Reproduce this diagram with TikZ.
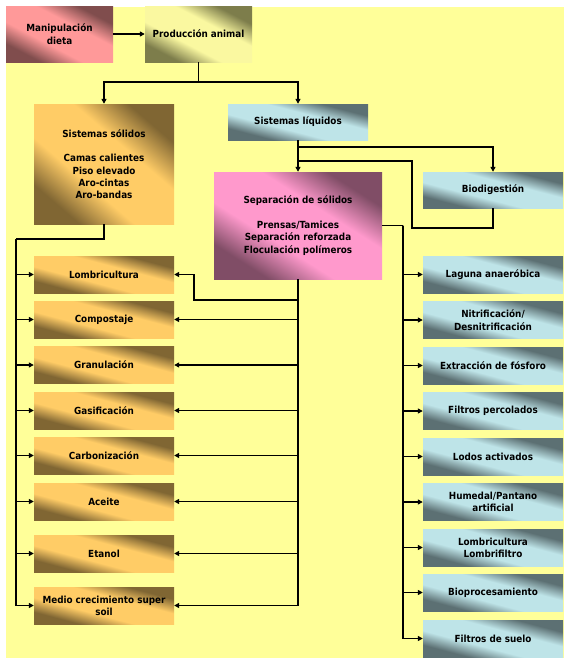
\documentclass[tikz,border=0pt]{standalone}
\usepackage{fontspec}
\setmainfont{DejaVu Sans Condensed}
\usetikzlibrary{arrows.meta}
\definecolor{bgyellow}{RGB}{255,255,153}
\definecolor{orL}{RGB}{255,204,102}
\definecolor{orD}{RGB}{128,102,51}
\definecolor{cyL}{RGB}{190,228,232}
\definecolor{cyD}{RGB}{92,112,115}
\definecolor{khL}{RGB}{250,248,160}
\definecolor{khD}{RGB}{125,125,75}
\definecolor{pkL}{RGB}{255,153,153}
\definecolor{pkD}{RGB}{128,77,77}
\definecolor{mgL}{RGB}{255,153,204}
\definecolor{mgD}{RGB}{128,77,102}
\pgfdeclareverticalshading{orsh}{100bp}{color(0bp)=(orD); color(26bp)=(orD); color(40bp)=(orL); color(60bp)=(orL); color(74bp)=(orD); color(100bp)=(orD)}
\pgfdeclareverticalshading{cysh}{100bp}{color(0bp)=(cyD); color(26bp)=(cyD); color(40bp)=(cyL); color(60bp)=(cyL); color(74bp)=(cyD); color(100bp)=(cyD)}
\pgfdeclareverticalshading{khsh}{100bp}{color(0bp)=(khD); color(26bp)=(khD); color(40bp)=(khL); color(60bp)=(khL); color(74bp)=(khD); color(100bp)=(khD)}
\pgfdeclareverticalshading{pksh}{100bp}{color(0bp)=(pkD); color(26bp)=(pkD); color(40bp)=(pkL); color(60bp)=(pkL); color(74bp)=(pkD); color(100bp)=(pkD)}
\pgfdeclareverticalshading{mgsh}{100bp}{color(0bp)=(mgD); color(26bp)=(mgD); color(40bp)=(mgL); color(60bp)=(mgL); color(74bp)=(mgD); color(100bp)=(mgD)}
% shaded backdrop: shading, centre x, centre y, width, height
\newcommand\shbox[5]{%
  \shade[shading=#1, shading angle=-45,
    transform canvas={shift={(#2,#3)}, xscale=#4/100, yscale=#5/100}]
    (-50pt,-50pt) rectangle (50pt,50pt);}
\tikzset{
  box/.style={inner sep=1pt, align=center, text=black,
    font=\fontsize{9.8}{12.3}\selectfont\bfseries},
  orbox/.style={box, minimum width=140pt, minimum height=37pt},
  cybox/.style={box, minimum width=140pt, minimum height=37pt},
  conn/.style={line width=1.6pt, black},
  arr/.style={conn, -{Triangle[length=5pt,width=5pt]}},
}
\begin{document}
\begin{tikzpicture}[x=1pt,y=-1pt]
\useasboundingbox (0,0) rectangle (570,664);
\fill[bgyellow] (6,7) rectangle (564,658);

% gradient fills of the boxes
\shbox{pksh}{59.5}{34}{107}{56}
\shbox{khsh}{198.5}{34}{107}{56}
\shbox{orsh}{104}{164}{140}{120}
\shbox{cysh}{298}{122}{140}{36}
\shbox{mgsh}{298}{225.5}{168}{107}
\shbox{cysh}{493}{190}{140}{36}
\foreach \y in {274.5,319.5,365,410.5,455.5,501.5,553.5,605.5} { \shbox{orsh}{104}{\y}{140}{37} }
\foreach \y in {274.5,320,365.5,411,456.5,502,547.5,592.5,638.5} { \shbox{cysh}{493}{\y}{140}{37} }

\node[box, minimum width=107pt, minimum height=56pt] (man) at (59.5,34) {Manipulación\\dieta};
\node[box, minimum width=107pt, minimum height=56pt] (prod) at (198.5,34) {Producción animal};
\node[box, minimum width=140pt, minimum height=120pt] (sol) at (104,164) {Sistemas sólidos\\[12.3pt]Camas calientes\\Piso elevado\\Aro-cintas\\Aro-bandas};
\node[box, minimum width=140pt, minimum height=36pt] (liq) at (298,122) {Sistemas líquidos};
\node[box, minimum width=168pt, minimum height=107pt] (sep) at (298,225.5) {Separación de sólidos\\[12.3pt]Prensas/Tamices\\Separación reforzada\\Floculación polímeros};
\node[box, minimum width=140pt, minimum height=36pt] (bio) at (493,190) {Biodigestión};

\node[orbox] (o1) at (104,274.5) {Lombricultura};
\node[orbox] (o2) at (104,319.5) {Compostaje};
\node[orbox] (o3) at (104,365) {Granulación};
\node[orbox] (o4) at (104,410.5) {Gasificación};
\node[orbox] (o5) at (104,455.5) {Carbonización};
\node[orbox] (o6) at (104,501.5) {Aceite};
\node[orbox] (o7) at (104,553.5) {Etanol};
\node[orbox] (o8) at (104,605.5) {Medio crecimiento super\\soil};

\node[cybox] (c1) at (493,274.5) {Laguna anaeróbica};
\node[cybox] (c2) at (493,320) {Nitrificación/\\Desnitrificación};
\node[cybox] (c3) at (493,365.5) {Extracción de fósforo};
\node[cybox] (c4) at (493,411) {Filtros percolados};
\node[cybox] (c5) at (493,456.5) {Lodos activados};
\node[cybox] (c6) at (493,502) {Humedal/Pantano\\artificial};
\node[cybox] (c7) at (493,547.5) {Lombricultura\\Lombrifiltro};
\node[cybox] (c8) at (493,592.5) {Bioprocesamiento};
\node[cybox] (c9) at (493,638.5) {Filtros de suelo};

% top
\draw[arr] (man.east) -- (prod.west);
\coordinate (j1) at (198.5,82);
\draw[conn] (prod.south) -- (j1);
\draw[arr] (j1) -| (sol.north);
\draw[arr] (j1) -| (liq.north);

% liquids
\draw[arr] (liq.south) -- (sep.north);
\coordinate (j2) at (298,147);
\draw[arr] (j2) -| (bio.north);
\coordinate (j3) at (298,161);
\draw[conn] (bio.south) |- (412,228) |- (j3);

% separation to right column
\coordinate (r0) at (403,225.5);
\draw[conn] (sep.east) -- (r0);
\foreach \i in {1,...,9} { \draw[arr] (r0) |- (c\i.west); }

% separation to left column
\draw[arr] (sep.south) |- (194,300) |- (o1.east);
\foreach \i in {2,...,8} { \draw[arr] (sep.south) |- (o\i.east); }

% solids to left column
\coordinate (l0) at (16,239);
\draw[conn] (sol.south) |- (l0);
\foreach \i in {1,...,8} { \draw[arr] (l0) |- (o\i.west); }
\end{tikzpicture}
\end{document}
